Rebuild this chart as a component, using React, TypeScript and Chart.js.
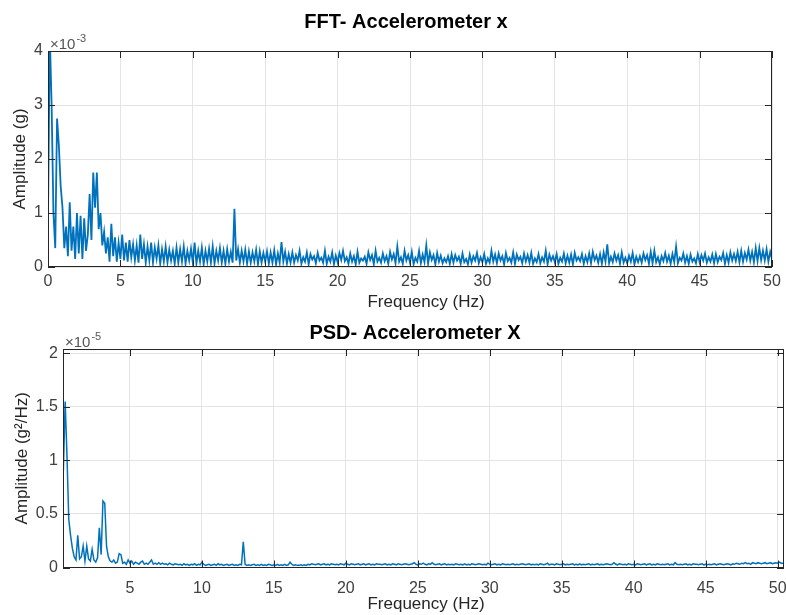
import React, { useEffect, useRef } from 'react';
import { Chart, registerables } from 'chart.js';

Chart.register(...registerables);

const FONT = '"Liberation Sans", Arial, Helvetica, sans-serif';
const LINE_COLOR = '#0072BD';

// ---------- FFT (amplitude in units of 1e-3 g), frequency grid 0 .. 50 Hz ----------
const fftStartHz = 0;
const fftStepHz = 0.125;
const fftAmplitude = [
  0.9, 4.3, 3.0, 1.0, 0.35, 2.75, 2.25, 1.5,
  1.1, 0.35, 0.75, 0.2, 1.2, 0.3, 0.75, 0.15,
  1.0, 0.25, 0.95, 0.15, 0.9, 0.3, 0.6, 1.35,
  0.5, 1.75, 1.1, 1.75, 0.7, 1.0, 0.4, 0.65,
  0.25, 0.55, 0.1, 0.8, 0.2, 0.55, 0.1, 0.45,
  0.15, 0.6, 0.12, 0.45, 0.1, 0.5, 0.18, 0.42,
  0.12, 0.4, 0.08, 0.6, 0.15, 0.42, 0.08, 0.38,
  0.12, 0.45, 0.08, 0.36, 0.15, 0.4, 0.06, 0.33,
  0.1, 0.38, 0.08, 0.32, 0.12, 0.3, 0.06, 0.36,
  0.08, 0.33, 0.1, 0.38, 0.06, 0.3, 0.12, 0.34,
  0.08, 0.45, 0.06, 0.3, 0.1, 0.36, 0.05, 0.3,
  0.1, 0.34, 0.08, 0.38, 0.06, 0.3, 0.12, 0.35,
  0.08, 0.3, 0.06, 0.33, 0.1, 0.28, 0.08, 1.08,
  0.12, 0.33, 0.08, 0.3, 0.1, 0.32, 0.06, 0.29,
  0.08, 0.27, 0.1, 0.32, 0.05, 0.29, 0.08, 0.26,
  0.1, 0.29, 0.06, 0.27, 0.08, 0.31, 0.05, 0.25,
  0.08, 0.46, 0.1, 0.28, 0.06, 0.24, 0.08, 0.27,
  0.08, 0.22, 0.12, 0.3, 0.06, 0.18, 0.1, 0.27,
  0.05, 0.24, 0.14, 0.2, 0.07, 0.26, 0.12, 0.17,
  0.08, 0.3, 0.06, 0.19, 0.1, 0.27, 0.05, 0.21,
  0.09, 0.26, 0.13, 0.3, 0.11, 0.18, 0.06, 0.25,
  0.1, 0.2, 0.05, 0.28, 0.08, 0.16, 0.12, 0.19,
  0.06, 0.27, 0.13, 0.22, 0.05, 0.3, 0.1, 0.17,
  0.08, 0.25, 0.11, 0.2, 0.06, 0.28, 0.14, 0.24,
  0.07, 0.38, 0.1, 0.18, 0.06, 0.3, 0.12, 0.22,
  0.08, 0.28, 0.05, 0.17, 0.1, 0.3, 0.07, 0.23,
  0.09, 0.4, 0.06, 0.27, 0.13, 0.22, 0.05, 0.26,
  0.1, 0.21, 0.07, 0.16, 0.09, 0.2, 0.06, 0.24,
  0.08, 0.22, 0.12, 0.19, 0.06, 0.25, 0.09, 0.15,
  0.05, 0.23, 0.08, 0.2, 0.12, 0.26, 0.07, 0.18,
  0.09, 0.24, 0.06, 0.16, 0.08, 0.3, 0.1, 0.23,
  0.07, 0.25, 0.12, 0.2, 0.05, 0.26, 0.11, 0.17,
  0.08, 0.27, 0.06, 0.23, 0.13, 0.19, 0.07, 0.25,
  0.1, 0.22, 0.08, 0.26, 0.06, 0.16, 0.09, 0.24,
  0.07, 0.18, 0.1, 0.3, 0.05, 0.23, 0.12, 0.2,
  0.09, 0.24, 0.06, 0.17, 0.1, 0.25, 0.07, 0.21,
  0.08, 0.23, 0.05, 0.26, 0.12, 0.18, 0.11, 0.24,
  0.06, 0.2, 0.09, 0.25, 0.07, 0.28, 0.13, 0.21,
  0.08, 0.24, 0.06, 0.27, 0.1, 0.42, 0.07, 0.19,
  0.09, 0.25, 0.12, 0.22, 0.06, 0.27, 0.08, 0.17,
  0.07, 0.21, 0.1, 0.26, 0.05, 0.19, 0.09, 0.2,
  0.08, 0.25, 0.13, 0.22, 0.06, 0.28, 0.07, 0.3,
  0.09, 0.18, 0.05, 0.2, 0.11, 0.26, 0.1, 0.21,
  0.06, 0.24, 0.09, 0.38, 0.07, 0.17, 0.12, 0.25,
  0.08, 0.2, 0.06, 0.23, 0.1, 0.16, 0.07, 0.24,
  0.09, 0.22, 0.12, 0.25, 0.08, 0.18, 0.1, 0.23,
  0.07, 0.24, 0.09, 0.19, 0.13, 0.26, 0.06, 0.22,
  0.08, 0.27, 0.12, 0.24, 0.11, 0.28, 0.09, 0.3,
  0.1, 0.26, 0.14, 0.32, 0.12, 0.28, 0.09, 0.35,
  0.11, 0.35, 0.13, 0.3, 0.12, 0.33, 0.1, 0.28,
  0.15,
];

// ---------- PSD (in units of 1e-5 g^2/Hz), frequency grid 0.375 .. 50.375 Hz ----------
const psdStartHz = 0.375;
const psdStepHz = 0.125;
const psdAmplitude = [
  0.9, 1.55, 1.05, 0.45, 0.3, 0.18, 0.1, 0.07,
  0.3, 0.08, 0.1, 0.2, 0.06, 0.2, 0.08, 0.06,
  0.17, 0.07, 0.05, 0.09, 0.37, 0.12, 0.62, 0.6,
  0.2, 0.1, 0.06, 0.05, 0.07, 0.04, 0.05, 0.13,
  0.12, 0.04, 0.05, 0.03, 0.07, 0.04, 0.06, 0.03,
  0.05, 0.04, 0.03, 0.05, 0.06, 0.03, 0.04, 0.03,
  0.05, 0.07, 0.03, 0.04, 0.03, 0.045, 0.03, 0.04,
  0.03, 0.035, 0.025, 0.04, 0.03, 0.025, 0.035, 0.03,
  0.025, 0.03, 0.02, 0.035, 0.025, 0.03, 0.02, 0.03,
  0.025, 0.035, 0.02, 0.03, 0.025, 0.05, 0.03, 0.02,
  0.025, 0.03, 0.02, 0.025, 0.03, 0.02, 0.035, 0.025,
  0.03, 0.02, 0.025, 0.03, 0.02, 0.025, 0.03, 0.02,
  0.025, 0.02, 0.03, 0.025, 0.24, 0.03, 0.02, 0.025,
  0.02, 0.025, 0.03, 0.02, 0.025, 0.02, 0.03, 0.02,
  0.025, 0.02, 0.03, 0.025, 0.02, 0.025, 0.02, 0.03,
  0.02, 0.025, 0.02, 0.03, 0.02, 0.025, 0.05, 0.03,
  0.02, 0.025, 0.02, 0.02, 0.025, 0.02, 0.025, 0.02,
  0.03, 0.025, 0.035, 0.03, 0.025, 0.03, 0.035, 0.025,
  0.03, 0.035, 0.025, 0.03, 0.025, 0.035, 0.03, 0.025,
  0.03, 0.025, 0.035, 0.03, 0.025, 0.04, 0.03, 0.025,
  0.035, 0.03, 0.025, 0.03, 0.035, 0.025, 0.03, 0.035,
  0.025, 0.03, 0.035, 0.025, 0.03, 0.025, 0.035, 0.03,
  0.03, 0.025, 0.03, 0.035, 0.025, 0.03, 0.025, 0.035,
  0.03, 0.025, 0.035, 0.03, 0.025, 0.03, 0.035, 0.03,
  0.025, 0.03, 0.035, 0.045, 0.03, 0.025, 0.035, 0.03,
  0.04, 0.03, 0.025, 0.035, 0.03, 0.045, 0.03, 0.025,
  0.03, 0.035, 0.025, 0.03, 0.035, 0.025, 0.03, 0.025,
  0.03, 0.025, 0.035, 0.03, 0.025, 0.03, 0.025, 0.035,
  0.025, 0.03, 0.025, 0.035, 0.03, 0.025, 0.03, 0.035,
  0.03, 0.025, 0.03, 0.025, 0.04, 0.03, 0.025, 0.03,
  0.035, 0.025, 0.03, 0.025, 0.035, 0.03, 0.025, 0.03,
  0.025, 0.03, 0.035, 0.025, 0.03, 0.025, 0.03, 0.035,
  0.03, 0.025, 0.03, 0.035, 0.025, 0.03, 0.025, 0.03,
  0.025, 0.035, 0.03, 0.025, 0.03, 0.04, 0.025, 0.03,
  0.03, 0.025, 0.035, 0.03, 0.025, 0.03, 0.035, 0.025,
  0.03, 0.025, 0.03, 0.035, 0.025, 0.03, 0.025, 0.035,
  0.025, 0.03, 0.025, 0.03, 0.035, 0.025, 0.03, 0.025,
  0.03, 0.035, 0.025, 0.03, 0.025, 0.03, 0.035, 0.03,
  0.025, 0.03, 0.045, 0.03, 0.025, 0.035, 0.03, 0.025,
  0.03, 0.025, 0.035, 0.03, 0.025, 0.03, 0.025, 0.035,
  0.03, 0.025, 0.03, 0.035, 0.025, 0.03, 0.035, 0.025,
  0.03, 0.025, 0.035, 0.03, 0.025, 0.03, 0.025, 0.03,
  0.035, 0.025, 0.03, 0.025, 0.045, 0.03, 0.025, 0.03,
  0.025, 0.03, 0.035, 0.025, 0.03, 0.025, 0.035, 0.03,
  0.03, 0.025, 0.03, 0.035, 0.025, 0.03, 0.025, 0.03,
  0.025, 0.03, 0.035, 0.025, 0.03, 0.035, 0.03, 0.025,
  0.03, 0.035, 0.03, 0.025, 0.035, 0.03, 0.04, 0.035,
  0.03, 0.04, 0.035, 0.045, 0.035, 0.04, 0.03, 0.045,
  0.04, 0.035, 0.045, 0.04, 0.035, 0.04, 0.045, 0.035,
  0.04, 0.045, 0.035, 0.04, 0.045, 0.04, 0.05, 0.04,
  0.04,
];

// ---------- tick labels ----------
const fftXTicks = [0, 5, 10, 15, 20, 25, 30, 35, 40, 45, 50];
const fftYTicks = [0, 1, 2, 3, 4];
const psdXTicks = [5, 10, 15, 20, 25, 30, 35, 40, 45, 50];
const psdYTicks = [0, 0.5, 1, 1.5, 2];

type AxesOpts = {
  title: string;
  titleX: number;
  titleY: number;
  expBase: string;
  expPow: string;
  expX: number;
  expY: number;
  xlabel: string;
  xlabelX: number;
  xlabelY: number;
};

const matlabAxes = {
  id: 'matlabAxes',
  afterDatasetsDraw(chart: any, _args: any, opts: AxesOpts) {
    const { ctx, chartArea: a } = chart;
    const xs = chart.scales.x;
    const ys = chart.scales.y;
    const tl = 7;
    ctx.save();
    ctx.strokeStyle = '#262626';
    ctx.lineWidth = 1;
    ctx.beginPath();
    for (const t of xs.ticks) {
      const px = Math.round(xs.getPixelForValue(t.value)) + 0.5;
      ctx.moveTo(px, a.top);
      ctx.lineTo(px, a.top + tl);
      ctx.moveTo(px, a.bottom);
      ctx.lineTo(px, a.bottom - tl);
    }
    for (const t of ys.ticks) {
      const py = Math.round(ys.getPixelForValue(t.value)) + 0.5;
      ctx.moveTo(a.left, py);
      ctx.lineTo(a.left + tl, py);
      ctx.moveTo(a.right, py);
      ctx.lineTo(a.right - tl, py);
    }
    ctx.stroke();
    ctx.strokeRect(
      Math.round(a.left) + 0.5,
      Math.round(a.top) + 0.5,
      Math.round(a.right) - Math.round(a.left) - 1,
      Math.round(a.bottom) - Math.round(a.top) - 1
    );

    // title
    ctx.fillStyle = '#000000';
    ctx.font = `bold 20px ${FONT}`;
    ctx.textAlign = 'center';
    ctx.textBaseline = 'middle';
    ctx.fillText(opts.title, opts.titleX, opts.titleY);

    // exponent label
    ctx.fillStyle = '#555555';
    ctx.textAlign = 'left';
    ctx.font = `15px ${FONT}`;
    ctx.fillText(opts.expBase, opts.expX, opts.expY);
    const w = ctx.measureText(opts.expBase).width;
    ctx.font = `11px ${FONT}`;
    ctx.fillText(opts.expPow, opts.expX + w + 1, opts.expY - 6);

    // x label
    ctx.fillStyle = '#262626';
    ctx.textAlign = 'center';
    ctx.font = `17px ${FONT}`;
    ctx.fillText(opts.xlabel, opts.xlabelX, opts.xlabelY);
    ctx.restore();
  },
};

function buildPoints(start: number, step: number, values: number[]) {
  return values.map((v, i) => ({ x: start + i * step, y: v }));
}

type PanelCfg = {
  padTop: number;
  padRight: number;
  yWidth: number;
  xHeight: number;
  xMin: number;
  xMax: number;
  yMin: number;
  yMax: number;
  xTicks: number[];
  yTicks: number[];
  xTickPad: number;
  yTitle: string;
  yTitlePad: number;
  lineWidth: number;
  points: { x: number; y: number }[];
  axes: AxesOpts;
};

function makeConfig(p: PanelCfg): any {
  const tickFont = { family: FONT, size: 16 };
  return {
    type: 'line',
    data: {
      datasets: [
        {
          data: p.points,
          borderColor: LINE_COLOR,
          borderWidth: p.lineWidth,
          borderJoinStyle: 'miter',
          pointRadius: 0,
          fill: false,
          tension: 0,
        },
      ],
    },
    options: {
      responsive: false,
      animation: false,
      events: [],
      layout: { padding: { top: p.padTop, right: p.padRight, bottom: 0, left: 0 } },
      plugins: {
        legend: { display: false },
        tooltip: { enabled: false },
        title: { display: false },
        matlabAxes: p.axes,
      },
      scales: {
        x: {
          type: 'linear',
          min: p.xMin,
          max: p.xMax,
          afterBuildTicks: (s: any) => {
            s.ticks = p.xTicks.map((v) => ({ value: v }));
          },
          afterFit: (s: any) => {
            s.height = p.xHeight;
            s.paddingLeft = 0;
            s.paddingRight = 0;
          },
          grid: { color: '#e4e4e4', lineWidth: 1, drawTicks: false },
          border: { display: false },
          ticks: {
            padding: p.xTickPad,
            color: '#404040',
            font: tickFont,
            maxRotation: 0,
            autoSkip: false,
            callback: (v: any) => String(v),
          },
        },
        y: {
          type: 'linear',
          min: p.yMin,
          max: p.yMax,
          afterBuildTicks: (s: any) => {
            s.ticks = p.yTicks.map((v) => ({ value: v }));
          },
          afterFit: (s: any) => {
            s.width = p.yWidth;
            s.paddingTop = 0;
            s.paddingBottom = 0;
          },
          grid: { color: '#e4e4e4', lineWidth: 1, drawTicks: false },
          border: { display: false },
          title: {
            display: true,
            text: p.yTitle,
            color: '#262626',
            font: { family: FONT, size: 17, lineHeight: 1.2 },
            padding: { top: p.yTitlePad, bottom: 0 },
          },
          ticks: {
            padding: 5,
            color: '#404040',
            font: tickFont,
            autoSkip: false,
            callback: (v: any) => String(v),
          },
        },
      },
    },
    plugins: [matlabAxes],
  };
}

export default function App() {
  const fftRef = useRef<HTMLCanvasElement>(null);
  const psdRef = useRef<HTMLCanvasElement>(null);

  useEffect(() => {
    const fftChart = new Chart(
      fftRef.current!,
      makeConfig({
        padTop: 51,
        padRight: 14,
        yWidth: 48,
        xHeight: 45,
        xMin: 0,
        xMax: 50,
        yMin: 0,
        yMax: 4,
        xTicks: fftXTicks,
        yTicks: fftYTicks,
        xTickPad: 5,
        yTitle: 'Amplitude (g)',
        yTitlePad: 10,
        lineWidth: 1.8,
        points: buildPoints(fftStartHz, fftStepHz, fftAmplitude),
        axes: {
          title: 'FFT- Accelerometer x',
          titleX: 406,
          titleY: 22,
          expBase: '×10',
          expPow: '-3',
          expX: 50,
          expY: 45,
          xlabel: 'Frequency (Hz)',
          xlabelX: 426,
          xlabelY: 302,
        },
      })
    );
    const psdChart = new Chart(
      psdRef.current!,
      makeConfig({
        padTop: 39,
        padRight: 2,
        yWidth: 63,
        xHeight: 47.5,
        xMin: 0.35,
        xMax: 50.44,
        yMin: 0,
        yMax: 2.04,
        xTicks: psdXTicks,
        yTicks: psdYTicks,
        xTickPad: 11,
        yTitle: 'Amplitude (g²/Hz)',
        yTitlePad: 12,
        lineWidth: 1.5,
        points: buildPoints(psdStartHz, psdStepHz, psdAmplitude),
        axes: {
          title: 'PSD- Accelerometer X',
          titleX: 415,
          titleY: 23,
          expBase: '×10',
          expPow: '-5',
          expX: 65,
          expY: 33,
          xlabel: 'Frequency (Hz)',
          xlabelX: 426,
          xlabelY: 294.5,
        },
      })
    );
    return () => {
      fftChart.destroy();
      psdChart.destroy();
    };
  }, []);

  return (
    <div style={{ position: 'absolute', left: 0, top: 0, width: 786, height: 615, background: '#ffffff' }}>
      <canvas
        ref={fftRef}
        width={786}
        height={312}
        style={{ position: 'absolute', left: 0, top: 0, width: 786, height: 312 }}
      />
      <canvas
        ref={psdRef}
        width={786}
        height={305}
        style={{ position: 'absolute', left: 0, top: 310, width: 786, height: 305 }}
      />
    </div>
  );
}
